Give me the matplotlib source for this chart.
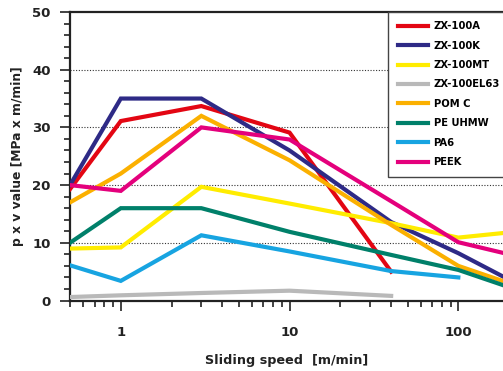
import numpy as np
import matplotlib
matplotlib.use("Agg")
import matplotlib.pyplot as plt
from matplotlib.ticker import FixedLocator, LogLocator, MultipleLocator, NullFormatter

plt.rcParams['font.family'] = ['DejaVu Sans']

speed = [0.5, 1, 3, 10, 40, 100, 200]

zx100a = [19.3, 31.1, 33.7, 29.1, 5.0]
zx100k = [20.0, 35.0, 35.0, 26.0, 13.6, 8.2, 3.6]
zx100mt = [9.0, 9.2, 19.7, 16.8, 13.4, 10.9, 11.8]
zx100el63 = [0.6, 0.9, 1.3, 1.7, 0.8]
pomc = [17.0, 22.0, 32.0, 24.3, 13.1, 6.0, 3.0]
peuhmw = [10.0, 16.0, 16.0, 11.9, 7.9, 5.3, 2.3]
pa6 = [6.1, 3.4, 11.3, 8.5, 5.1, 4.0]
peek = [20.0, 19.0, 30.0, 27.9, 17.2, 10.1, 8.0]

series = [
    ("ZX-100A", zx100a, "#e30613"),
    ("ZX-100K", zx100k, "#2e2a86"),
    ("ZX-100MT", zx100mt, "#ffec00"),
    ("ZX-100EL63", zx100el63, "#b9b9b9"),
    ("POM C", pomc, "#fbb000"),
    ("PE UHMW", peuhmw, "#00806a"),
    ("PA6", pa6, "#17a4e1"),
    ("PEEK", peek, "#e4007c"),
]

fig = plt.figure(figsize=(5.03, 3.71), dpi=100)
ax = fig.add_axes([70 / 503, 1 - 300.5 / 371, 1 - 70 / 503, (300.5 - 12) / 371])

for name, vals, col in series:
    ax.plot(speed[:len(vals)], vals, color=col, lw=3.0, label=name, solid_joinstyle='miter', zorder=3)

ax.set_xscale('log')
ax.set_xlim(0.5, 184)
ax.set_ylim(0, 50)

ax.xaxis.set_major_locator(FixedLocator([1, 10, 100]))
ax.set_xticklabels(['1', '10', '100'])
ax.xaxis.set_minor_locator(LogLocator(base=10, subs=np.arange(2, 10)))
ax.xaxis.set_minor_formatter(NullFormatter())
ax.yaxis.set_major_locator(MultipleLocator(10))
ax.yaxis.set_minor_locator(MultipleLocator(2))

for y in [10, 20, 30, 40]:
    ax.axhline(y, color='#333333', lw=0.8, ls=(0, (1, 1.5)), zorder=1)

ax.tick_params(which='major', direction='out', length=7, width=1.2, color='#222222',
               labelsize=9.5, pad=7)
ax.tick_params(axis='x', which='major', pad=11)
ax.tick_params(which='minor', direction='out', length=4.3, width=1.2, color='#222222')
for lab in ax.get_xticklabels() + ax.get_yticklabels():
    lab.set_fontweight('bold')
    lab.set_color('#222222')

for s in ['left', 'bottom', 'top']:
    ax.spines[s].set_linewidth(1.6)
    ax.spines[s].set_color('#222222')
ax.spines['right'].set_visible(False)

ax.set_xlabel('Sliding speed  [m/min]', fontsize=9.2, fontweight='bold', labelpad=11, color='#222222')
ax.set_ylabel('p x v value [MPa x m/min]', fontsize=8.9, fontweight='bold', labelpad=6, color='#222222')

leg = ax.legend(loc='upper left', bbox_to_anchor=(388 / 503, 1 - 11.7 / 371),
                bbox_transform=fig.transFigure, borderaxespad=0, fancybox=False,
                framealpha=1, edgecolor='#444444', prop={'size': 7.2, 'weight': 'bold'},
                handlelength=3.0, handletextpad=0.6, labelspacing=0.94, borderpad=0.95)
leg.get_frame().set_linewidth(1.0)
leg.set_zorder(5)

fig.savefig('out.png', dpi=100)
